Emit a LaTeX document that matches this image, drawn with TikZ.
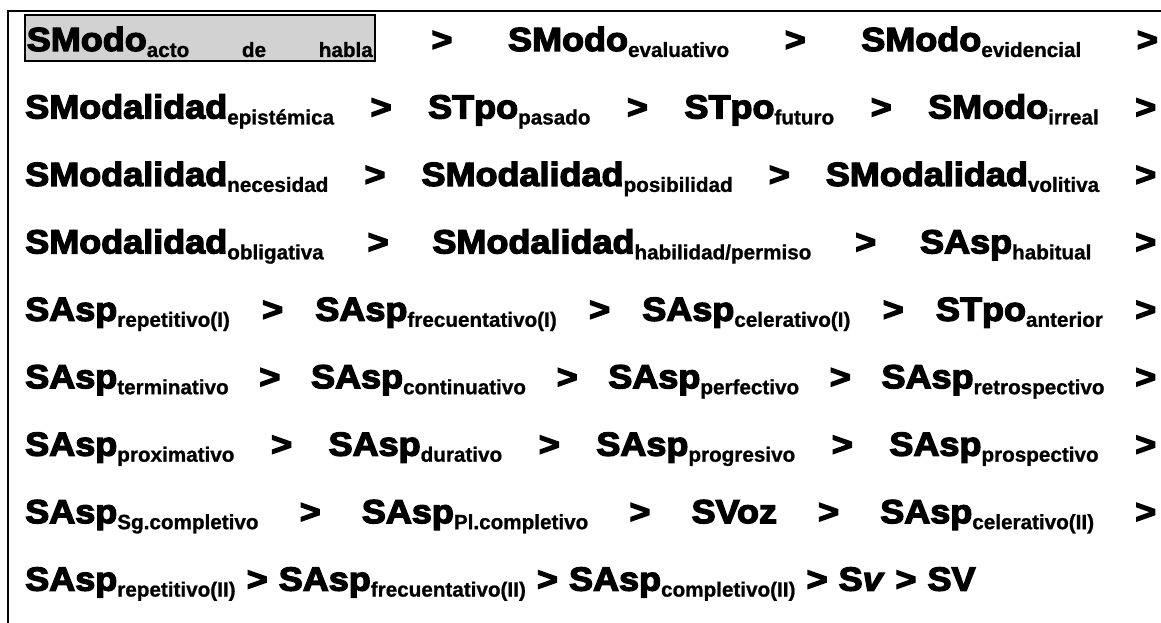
\documentclass[tikz,border=0pt]{standalone}
\usepackage{fontspec}
\usetikzlibrary{positioning}
\newfontfamily\heavyfont{Liberation Sans}[FakeBold=4,FakeStretch=1.08]
\newfontfamily\subfont{Liberation Sans}[FakeBold=1]
\newcommand{\subtxt}[1]{\raisebox{-4.5pt}{\subfont\bfseries\fontsize{15.5}{18}\selectfont #1}}
\newcommand{\gtsep}{\hfill>\hfill}
\setlength{\parindent}{0pt}
\begin{document}
\begin{tikzpicture}[x=0.75pt, y=-0.75pt, font=\heavyfont\bfseries\fontsize{25}{29}\selectfont,
	textline/.style={anchor=base west, inner sep=0pt, align=left}]
	\useasboundingbox (0,0) rectangle (1161,623);
	%frame
	\draw[line width=1.5pt] (8,623) -- (8,11) -- (1161,11);
	%first line
	\node[textline, draw, fill=gray!35, line width=1.2pt, inner xsep=1.5pt,
		text width=259.5pt, text height=27pt, text depth=7.5pt] (acto) at (24,51)
		{SModo\subtxt{acto}\hfill\subtxt{de}\hfill\subtxt{habla}};
	\node[textline, text width=586.5pt] (line1) at (acto.base east)
		{\gtsep SModo\subtxt{evaluativo}\gtsep SModo\subtxt{evidencial}\hfill>};
	%other lines
	\foreach \i/\txt in {
		2/{SModalidad\subtxt{epistémica}\gtsep STpo\subtxt{pasado}\gtsep STpo\subtxt{futuro}\gtsep SModo\subtxt{irreal}\hfill>},
		3/{SModalidad\subtxt{necesidad}\gtsep SModalidad\subtxt{posibilidad}\gtsep SModalidad\subtxt{volitiva}\hfill>},
		4/{SModalidad\subtxt{obligativa}\gtsep SModalidad\subtxt{habilidad/permiso}\gtsep SAsp\subtxt{habitual}\hfill>},
		5/{SAsp\subtxt{repetitivo(I)}\gtsep SAsp\subtxt{frecuentativo(I)}\gtsep SAsp\subtxt{celerativo(I)}\gtsep STpo\subtxt{anterior}\hfill>},
		6/{SAsp\subtxt{terminativo}\gtsep SAsp\subtxt{continuativo}\gtsep SAsp\subtxt{perfectivo}\gtsep SAsp\subtxt{retrospectivo}\hfill>},
		7/{SAsp\subtxt{proximativo}\gtsep SAsp\subtxt{durativo}\gtsep SAsp\subtxt{progresivo}\gtsep SAsp\subtxt{prospectivo}\hfill>},
		8/{SAsp\subtxt{Sg.completivo}\gtsep SAsp\subtxt{Pl.completivo}\gtsep SVoz\gtsep SAsp\subtxt{celerativo(II)}\hfill>},
		9/{SAsp\subtxt{repetitivo(II)} > SAsp\subtxt{frecuentativo(II)} > SAsp\subtxt{completivo(II)} > S\textit{v} > SV}
	}
	\node[textline, text width=848.25pt] (line\i) at (25,{51+67.45*(\i-1)}) {\txt};
\end{tikzpicture}
\end{document}
